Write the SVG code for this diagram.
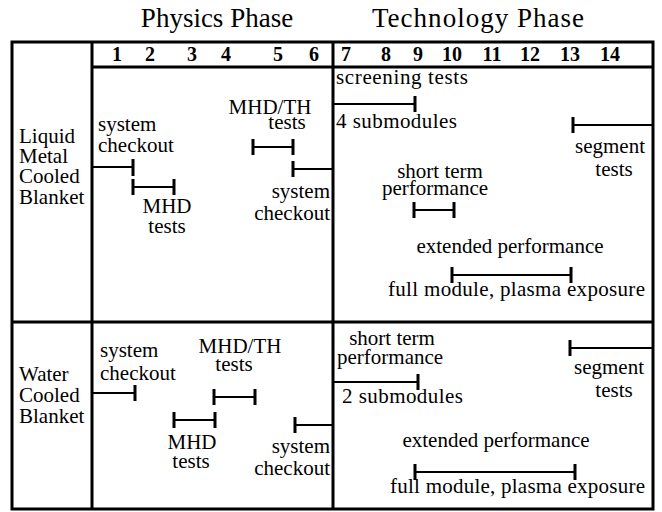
<svg xmlns="http://www.w3.org/2000/svg" width="662" height="512" viewBox="0 0 662 512">
<style>
text{font-family:"Liberation Serif","Times New Roman",serif;fill:#000}
.t{font-size:21px}
.h{font-size:27px}
.n{font-size:20px;text-anchor:middle;font-weight:bold}
.m{text-anchor:middle}
.e{text-anchor:end}
.grid{stroke:#000;stroke-width:3;fill:none}
.bar{stroke:#000;stroke-width:2;fill:none}
.tick{stroke:#000;stroke-width:3;fill:none}
</style>
<rect width="662" height="512" fill="#fff"/>
<g id="titles">
<text class="h m" x="217" y="27">Physics Phase</text>
<text class="h m" x="478" y="27" textLength="212">Technology Phase</text>
</g>
<g id="grid">
<rect class="grid" x="12" y="42" width="641" height="467"/>
<line class="grid" x1="92" y1="42" x2="92" y2="509"/>
<line class="grid" x1="333" y1="42" x2="333" y2="509"/>
<line class="grid" x1="92" y1="67" x2="653" y2="67"/>
<line class="grid" x1="12" y1="322" x2="653" y2="322"/>
</g>
<g id="months">
<text class="n" x="117" y="61">1</text>
<text class="n" x="150" y="61">2</text>
<text class="n" x="192" y="61">3</text>
<text class="n" x="226" y="61">4</text>
<text class="n" x="278" y="61">5</text>
<text class="n" x="314" y="61">6</text>
<text class="n" x="346" y="61">7</text>
<text class="n" x="386" y="61">8</text>
<text class="n" x="418" y="61">9</text>
<text class="n" x="452" y="61">10</text>
<text class="n" x="492" y="61">11</text>
<text class="n" x="530" y="61">12</text>
<text class="n" x="570" y="61">13</text>
<text class="n" x="610" y="61">14</text>
</g>
<g id="row-liquid-metal">
<text class="t" x="19" y="143">Liquid</text>
<text class="t" x="19" y="163">Metal</text>
<text class="t" x="19" y="183">Cooled</text>
<text class="t" x="19" y="204">Blanket</text>
</g>
<g id="row-water">
<text class="t" x="19" y="381">Water</text>
<text class="t" x="19" y="402">Cooled</text>
<text class="t" x="19" y="423">Blanket</text>
</g>
<g id="lm-labels">
<text class="t" x="98" y="131">system</text>
<text class="t" x="98" y="152">checkout</text>
<text class="t m" x="167" y="213">MHD</text>
<text class="t m" x="167" y="233">tests</text>
<text class="t m" x="270" y="114">MHD/TH</text>
<text class="t m" x="287" y="129">tests</text>
<text class="t e" x="330" y="198">system</text>
<text class="t e" x="330" y="220">checkout</text>
<text class="t" x="336" y="84" textLength="132">screening tests</text>
<text class="t" x="336" y="128" textLength="121">4 submodules</text>
<text class="t m" x="610" y="153">segment</text>
<text class="t m" x="614" y="176">tests</text>
<text class="t m" x="440" y="178">short term</text>
<text class="t m" x="435" y="195">performance</text>
<text class="t m" x="510" y="253">extended performance</text>
<text class="t" x="388" y="296" textLength="257">full module, plasma exposure</text>
</g>
<g id="w-labels">
<text class="t" x="100" y="357">system</text>
<text class="t" x="100" y="380">checkout</text>
<text class="t m" x="240" y="353">MHD/TH</text>
<text class="t m" x="234" y="371">tests</text>
<text class="t m" x="192" y="449">MHD</text>
<text class="t m" x="191" y="468">tests</text>
<text class="t e" x="330" y="453">system</text>
<text class="t e" x="330" y="475">checkout</text>
<text class="t m" x="392" y="345">short term</text>
<text class="t" x="337" y="364">performance</text>
<text class="t" x="342" y="403" textLength="121">2 submodules</text>
<text class="t m" x="609" y="374">segment</text>
<text class="t m" x="614" y="397">tests</text>
<text class="t m" x="496" y="447">extended performance</text>
<text class="t" x="390" y="493" textLength="255">full module, plasma exposure</text>
</g>
<g id="connectors">
<path class="bar" d="M92 167H133M133 187H174M253 147H293M293 169H333M333 104H415M573 125H653M414 210H454M452 275H571"/>
<path class="tick" d="M133 159V176M133 179V195M174 179V195M253 139V155M293 139V155M293 161V177M415 96V112M573 117V133M414 202V218M454 202V218M452 267V283M571 267V283"/>
<path class="bar" d="M92 393H135M214 397H255M174 420H215M295 425H333M333 382H418M570 348H653M415 472H575"/>
<path class="tick" d="M135 385V401M214 389V405M255 389V405M174 412V428M215 412V428M295 417V433M418 374V390M570 340V356M415 464V480M575 464V480"/>
</g>
</svg>
